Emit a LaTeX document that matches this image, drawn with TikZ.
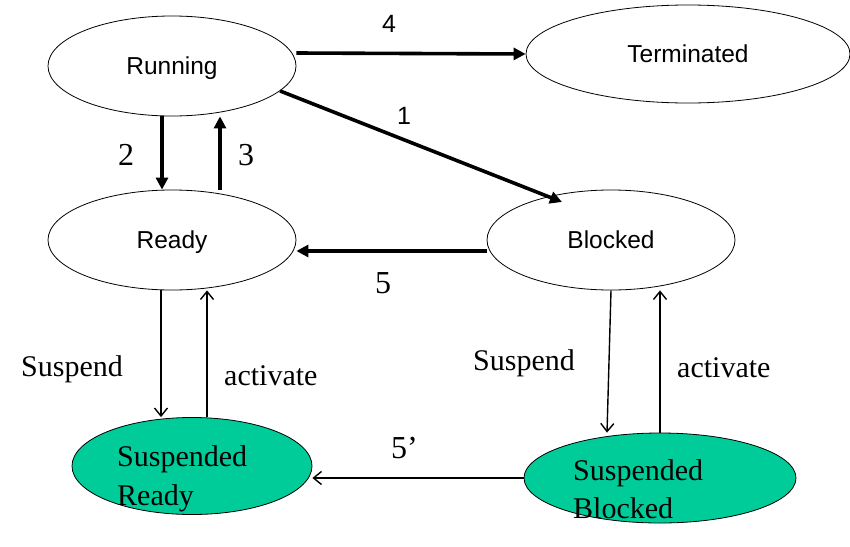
\documentclass[tikz,border=0pt]{standalone}
\usepackage{fontspec}
\setmainfont{Liberation Serif}
\newfontfamily\arialf{Liberation Sans}
\usetikzlibrary{shapes.geometric,arrows.meta}
\definecolor{susp}{HTML}{00CC99}
\tikzset{
  st/.style={draw=black, line width=0.8pt, ellipse, inner sep=0pt, text height=17.5pt, text depth=0pt, font=\arialf\fontsize{24.5}{28}\selectfont},
  sst/.style={st, fill=susp},
  thk/.style={line width=3.6pt, -{Triangle[length=12pt,width=12pt]}},
  thn/.style={line width=1.4pt, -{Straight Barb[length=8pt,width=13pt,line width=1.4pt]}},
  sanslbl/.style={anchor=base west, inner sep=0pt, font=\arialf\fontsize{25}{29}\selectfont},
  numlbl/.style={anchor=base west, inner sep=0pt, font=\fontsize{32}{36}\selectfont},
  wordlbl/.style={anchor=base west, inner sep=0pt, font=\fontsize{30}{36}\selectfont},
}
\begin{document}
\begin{tikzpicture}[x=1pt, y=-1pt]
\useasboundingbox (0,0) rectangle (850,546);
% states
\node[st, minimum width=248pt, minimum height=100pt] (run) at (172,66) {Running};
\node[st, minimum width=324pt, minimum height=98pt] (term) at (688,54) {Terminated};
\node[st, minimum width=248pt, minimum height=100pt] (rdy) at (172,240) {Ready};
\node[st, minimum width=248pt, minimum height=100pt] (blk) at (611,240) {Blocked};
\node[sst, minimum width=240pt, minimum height=97pt] (sr) at (192,466) {};
\node[sst, minimum width=272pt, minimum height=90pt] (ss) at (660,478) {};
% texts of suspended states
\node[wordlbl] (srt1) at (117,466) {Suspended};
\node[wordlbl] (srt2) at (117,505) {Ready};
\node[wordlbl] (sst1) at (573,480) {Suspended};
\node[wordlbl] (sst2) at (573,518) {Blocked};
% thick transitions
\draw[thk] ([yshift=13pt]run.east) -- (term.west);
\draw[thk] (run.-13.3) -- ([shift={(-49pt,38pt)}]blk.center);
\draw[thk] ([xshift=-10pt]run.south) -- ([xshift=-10pt]rdy.north);
\draw[thk] ([xshift=48pt]rdy.north) -- ([xshift=48pt]run.south);
\draw[thk] ([yshift=-11pt]blk.west) -- ([yshift=-11pt]rdy.east);
% thin transitions
\draw[thn] ([xshift=-11pt]rdy.south) -- ([xshift=-31pt]sr.north);
\draw[thn] ([xshift=15pt]sr.north) -- ([xshift=35pt]rdy.south);
\draw[thn] (blk.south) -- ([xshift=-53pt]ss.north);
\draw[thn] (ss.north) -- ([xshift=49pt]blk.south);
\draw[thn] (ss.west) -- ([yshift=-12pt]sr.east);
% labels
\node[sanslbl] (l4) at (382,32) {4};
\node[sanslbl] (l1) at (397,124) {1};
\node[numlbl] (l2) at (118,165) {2};
\node[numlbl] (l3) at (238,165) {3};
\node[numlbl] (l5) at (375,293) {5};
\node[numlbl] (l5p) at (391,458) {5’};
\node[wordlbl] (sl) at (21,376) {Suspend};
\node[wordlbl] (al) at (224,385) {activate};
\node[wordlbl] (sr2) at (473,370) {Suspend};
\node[wordlbl] (ar) at (677,377) {activate};
\end{tikzpicture}
\end{document}
